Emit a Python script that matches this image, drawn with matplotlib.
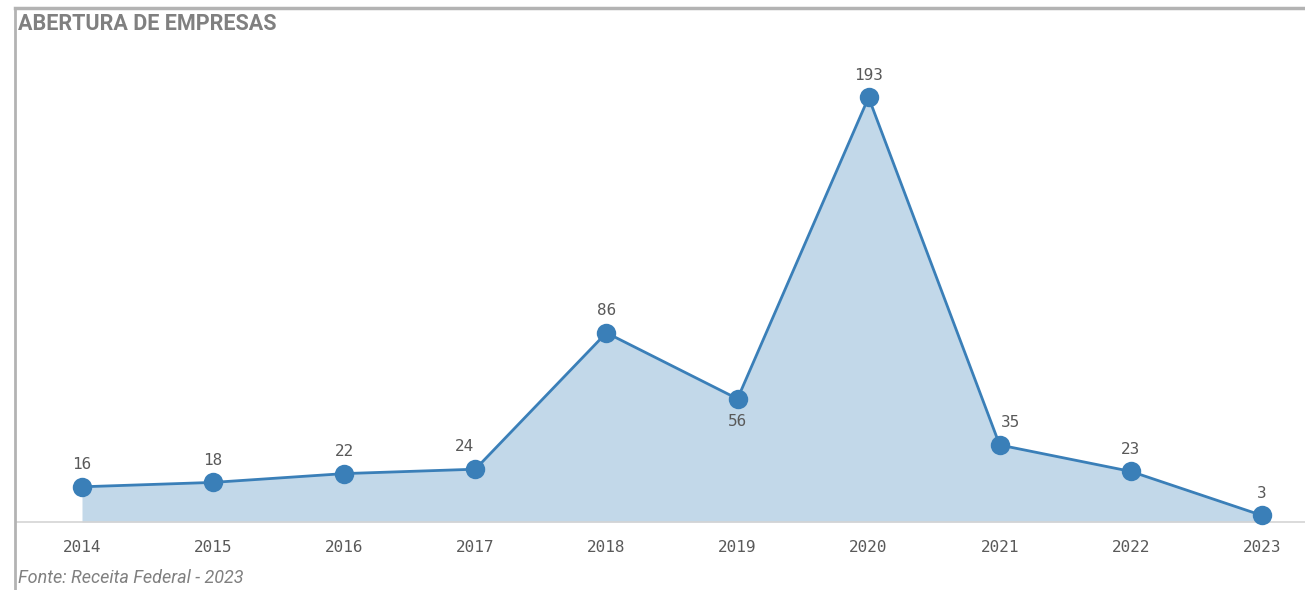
#!/usr/bin/env python3
"""Abertura de empresas por ano (area chart)."""
import matplotlib.pyplot as plt
from matplotlib.lines import Line2D

years = [2014, 2015, 2016, 2017, 2018, 2019, 2020, 2021, 2022, 2023]
values = [16, 18, 22, 24, 86, 56, 193, 35, 23, 3]
below_labels = [2019]
# labels nudged sideways so they don't sit on the line
nudge_left = [2017]
nudge_right = [2021]

LINE = "#3a7fb8"
FILL = "#c2d8e9"
GREY_TXT = "#595959"

fig = plt.figure(figsize=(13.05, 5.9), dpi=100)
ax = fig.add_axes([16 / 1305, 1 - 522 / 590, 1 - 16 / 1305, (522 - 9) / 590])

ax.fill_between(years, values, 0, color=FILL, linewidth=0)
ax.plot(years, values, color=LINE, linewidth=2, marker="o", markersize=14,
        markeredgewidth=0, zorder=3, clip_on=False)

for yr, v in zip(years, values):
    dy = -16 if yr in below_labels else 16
    dx = -8 if yr in nudge_left else (8 if yr in nudge_right else 0)
    ax.annotate(str(v), (yr, v), xytext=(dx, dy), textcoords="offset points",
                ha="center", va="center", fontsize=11.5,
                family="DejaVu Sans Mono", color=GREY_TXT)

ax.set_xlim(2014 - 66 / 131.1, 2014 - 66 / 131.1 + 1289 / 131.1)
ax.set_ylim(0, (522 - 9) / 2.2)
ax.set_xticks(years)
ax.set_xticklabels([str(y) for y in years], family="DejaVu Sans Mono",
                   fontsize=11.5, color=GREY_TXT)
ax.tick_params(axis="x", length=0, pad=13)
ax.set_yticks([])
for side in ["top", "right", "left"]:
    ax.spines[side].set_visible(False)
ax.spines["bottom"].set_color("#d4d4d4")
ax.spines["bottom"].set_linewidth(1.2)
ax.patch.set_alpha(0)

# outer frame lines
fig.add_artist(Line2D([15 / 1305, 1], [1 - 8 / 590, 1 - 8 / 590],
                      color="#b3b3b3", linewidth=2.5, transform=fig.transFigure))
fig.add_artist(Line2D([15 / 1305, 15 / 1305], [0, 1 - 8 / 590],
                      color="#b3b3b3", linewidth=2, transform=fig.transFigure))

fig.text(18 / 1305, 1 - 24 / 590, "ABERTURA DE EMPRESAS", fontsize=15.5,
         fontweight="bold", family="Roboto", color="#808080", va="center")
fig.text(18 / 1305, 1 - 578 / 590, "Fonte: Receita Federal - 2023", fontsize=13,
         style="italic", family="Roboto", color="#808080", va="center")

fig.savefig("out.png", dpi=100)
